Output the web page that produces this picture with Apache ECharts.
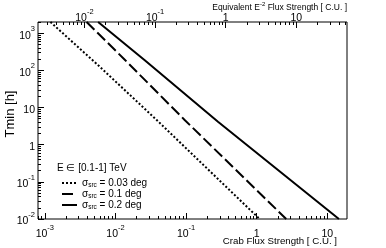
<!DOCTYPE html>
<html><head><meta charset="utf-8">
<script src="https://cdn.jsdelivr.net/npm/echarts@6/dist/echarts.min.js"></script>
<style>html,body{margin:0;padding:0;background:#fff}#c{width:386px;height:248px}</style>
</head><body><div id="c"></div>
<script>
// ---- data ----
const seriesNames = ['0.03', '0.1', '0.2'];
const dottedX = [0.0012, 0.006, 0.0384, 1.1];
const dottedY = [2000, 125, 4.6, 0.01];
const dashedX = [0.0039, 0.01355, 0.0955, 2.62];
const dashedY = [2000, 193, 4.62, 0.01];
const solidX  = [0.00568, 0.026, 0.283, 14.6];
const solidY  = [2000, 188, 4.16, 0.01];

const xMajorValues = [0.001, 0.01, 0.1, 1, 10];
const xMajorLabels = ['10^-3', '10^-2', '10^-1', '1', '10'];
const topMajorValues = [0.01, 0.1, 1, 10];
const topMajorLabels = ['10^-2', '10^-1', '1', '10'];
const yMajorValues = [0.01, 0.1, 1, 10, 100, 1000];
const yMajorLabels = ['10^-2', '10^-1', '1', '10', '10^2', '10^3'];

function minorTicks(lo, hi) {
  const out = [];
  for (let e = lo; e <= hi; e++) for (let m = 2; m <= 9; m++) out.push(m * Math.pow(10, e));
  return out;
}
function toRich(s) {
  const p = s.split('^');
  return p.length === 2 ? '{b|' + p[0] + '}{sup|' + p[1] + '}' : '{b|' + s + '}';
}
function labelFor(values, labels) {
  return function (v) {
    const i = values.findIndex(t => Math.abs(Math.log10(t) - Math.log10(v)) < 1e-6);
    return i < 0 ? '' : toRich(labels[i]);
  };
}
const FONT = 'Liberation Sans';
const richLbl = {
  b: { fontFamily: FONT, fontSize: 10.5, color: '#000', lineHeight: 16, verticalAlign: 'bottom' },
  sup: { fontFamily: FONT, fontSize: 7.5, color: '#000', lineHeight: 16, verticalAlign: 'top' }
};
const xMin = 8e-4, xMax = 19, ratio = 2.75;

function majorAxis(pos, min, max, values, labels, margin) {
  return {
    type: 'log', position: pos, min: min, max: max, logBase: 10,
    axisLine: { show: false },
    splitLine: { show: false },
    axisTick: { show: true, inside: true, length: 6, lineStyle: { color: '#000', width: 1 }, customValues: values },
    axisLabel: { show: true, customValues: values, formatter: labelFor(values, labels), rich: richLbl, margin: margin }
  };
}
function minorAxis(pos, min, max, values) {
  return {
    type: 'log', position: pos, min: min, max: max, logBase: 10,
    axisLine: { show: false }, splitLine: { show: false },
    axisTick: { show: true, inside: true, length: 3, lineStyle: { color: '#000', width: 1 }, customValues: values },
    axisLabel: { show: false }
  };
}

const chart = echarts.init(document.getElementById('c'), null, { renderer: 'canvas' });
const grid = { left: 38, right: 39, top: 22, height: 197, show: true, borderColor: '#000', borderWidth: 1, backgroundColor: 'transparent' };

function pairs(xs, ys) { return xs.map((x, i) => [x, ys[i]]); }

chart.setOption({
  animation: false,
  textStyle: { fontFamily: FONT },
  grid: grid,
  title: {
    text: 'E \u2208 [0.1-1] TeV', left: 57, top: 163,
    textStyle: { fontFamily: FONT, fontSize: 10, fontWeight: 'normal', color: '#000' }, padding: 0
  },
  legend: {
    orient: 'vertical', left: 61, top: 178, itemWidth: 15, itemHeight: 8, itemGap: 0.5, padding: 0,
    data: seriesNames,
    itemStyle: { opacity: 0 },
    formatter: n => '{t|\u03c3}{sub|src}{t| = ' + n + ' deg}',
    textStyle: {
      fontFamily: FONT, fontSize: 10, color: '#000',
      rich: {
        t: { fontFamily: FONT, fontSize: 10, color: '#000', lineHeight: 11 },
        sub: { fontFamily: FONT, fontSize: 6.5, color: '#000', verticalAlign: 'bottom', lineHeight: 11 }
      }
    }
  },
  xAxis: [
    majorAxis('bottom', xMin, xMax, xMajorValues, xMajorLabels, 5),
    minorAxis('bottom', xMin, xMax, minorTicks(-4, 1)),
    majorAxis('top', xMin * ratio, xMax * ratio, topMajorValues, topMajorLabels, -2),
    minorAxis('top', xMin * ratio, xMax * ratio, minorTicks(-3, 1))
  ],
  yAxis: [
    majorAxis('left', 0.01, 2000, yMajorValues, yMajorLabels, 3),
    minorAxis('left', 0.01, 2000, minorTicks(-2, 3))
  ],
  series: [
    { name: seriesNames[0], type: 'line', symbol: 'none', data: pairs(dottedX, dottedY), itemStyle: { color: '#000' },
      lineStyle: { color: '#000', width: 2, type: [2, 2], cap: 'butt' } },
    { name: seriesNames[1], type: 'line', symbol: 'none', data: pairs(dashedX, dashedY), itemStyle: { color: '#000' },
      lineStyle: { color: '#000', width: 2, type: [11, 4], cap: 'butt' } },
    { name: seriesNames[2], type: 'line', symbol: 'none', data: pairs(solidX, solidY), itemStyle: { color: '#000' },
      lineStyle: { color: '#000', width: 2, type: 'solid' } }
  ],
  graphic: [
    { type: 'text', x: 337, y: 241, style: { text: 'Crab Flux Strength [ C.U. ]', fontFamily: FONT, fontSize: 9.7, fill: '#000', align: 'right', verticalAlign: 'middle' } },
    { type: 'text', x: 347, y: 7, style: { text: '{b|Equivalent E}{sup|-2}{b| Flux Strength [ C.U. ]}', fontFamily: FONT, fontSize: 8.5, fill: '#000', align: 'right', verticalAlign: 'middle',
      rich: { b: { fontFamily: FONT, fontSize: 8.5, fill: '#000', lineHeight: 11, verticalAlign: 'bottom' }, sup: { fontFamily: FONT, fontSize: 6, fill: '#000', lineHeight: 11, verticalAlign: 'top' } } } },
    { type: 'text', x: 10, y: 114, rotation: Math.PI / 2, style: { text: 'Tmin [h]', fontFamily: FONT, fontSize: 13, fill: '#000', align: 'center', verticalAlign: 'middle' } }
  ]
});
</script>
</body></html>
